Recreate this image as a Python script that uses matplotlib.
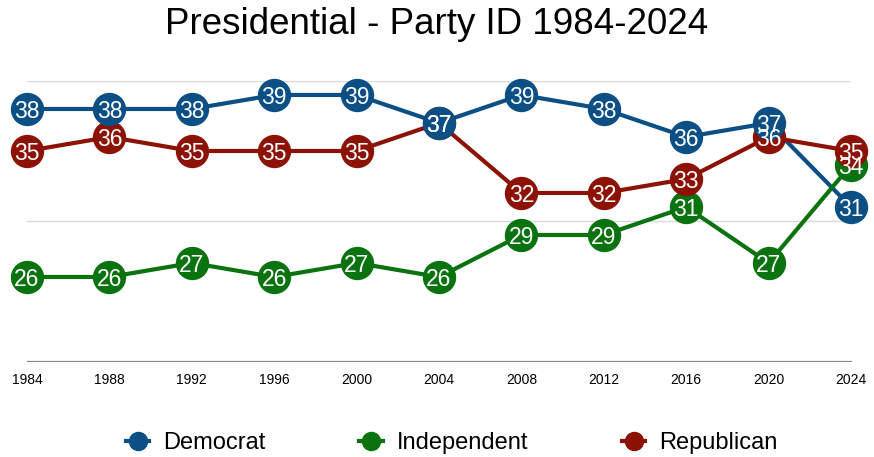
import numpy as np
import matplotlib.pyplot as plt

years = [1984, 1988, 1992, 1996, 2000, 2004, 2008, 2012, 2016, 2020, 2024]
democrat = [38, 38, 38, 39, 39, 37, 39, 38, 36, 37, 31]
independent = [26, 26, 27, 26, 27, 26, 29, 29, 31, 27, 34]
republican = [35, 36, 35, 35, 35, 37, 32, 32, 33, 36, 35]

series = [("Democrat", democrat, "#0b4f85"),
          ("Independent", independent, "#0a720f"),
          ("Republican", republican, "#8c1205")]

plt.rcParams['font.family'] = ['Liberation Sans', 'DejaVu Sans']

fig = plt.figure(figsize=(8.74, 4.57), dpi=100)
ax = fig.add_axes([0.0309, 0.2101, 0.9428, 0.6127])

# lines first, then markers, then labels on top
for name, vals, col in series:
    ax.plot(years, vals, color=col, lw=3, zorder=2, clip_on=False, solid_capstyle='round')
zo = {"Independent": 3, "Republican": 4, "Democrat": 5}
for name, vals, col in series:
    ax.plot(years, vals, ls='none', marker='o', ms=23, color=col,
            mec=col, zorder=zo[name], clip_on=False)
for name, vals, col in series:
    for x, y in zip(years, vals):
        ax.text(x, y, str(y), color='white', fontsize=16.5, ha='center',
                va='center_baseline', zorder=10)

ax.set_xlim(1984, 2024)
ax.set_ylim(20, 40)
ax.set_yticks([20, 30, 40])
ax.set_yticklabels([])
ax.tick_params(axis='y', length=0)
ax.grid(axis='y', color='#d8d8d8', lw=1)
ax.set_axisbelow(True)
for s in ['top', 'left', 'right']:
    ax.spines[s].set_visible(False)
ax.spines['bottom'].set_color('#8a8a8a')
ax.set_xticks(years)
ax.set_xticklabels([str(y) for y in years],
                   family=['Liberation Sans Narrow', 'Liberation Sans'], fontsize=10)
ax.tick_params(axis='x', length=0, pad=9)

fig.suptitle("Presidential - Party ID 1984-2024", fontsize=26.5, y=0.985)

handles = [plt.Line2D([], [], color=col, lw=3, marker='o', ms=13) for _, _, col in series]
fig.legend(handles, [n for n, _, _ in series], loc='center', bbox_to_anchor=(0.517, 0.03),
           ncol=3, frameon=False, fontsize=17, handlelength=1.0, columnspacing=3.95,
           handletextpad=0.6)

fig.savefig("out.png", dpi=100)
